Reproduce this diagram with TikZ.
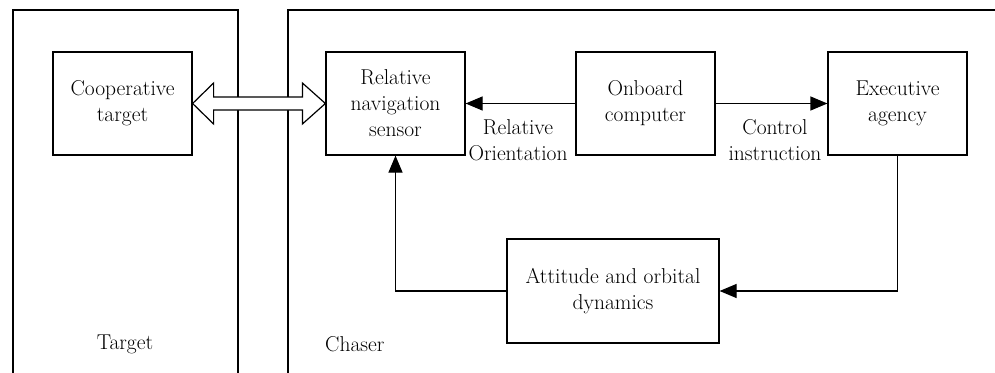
\documentclass[tikz,border=0pt]{standalone}
\usetikzlibrary{arrows.meta,calc}
\begin{document}
\begin{tikzpicture}[x=1pt,y=-1pt,
  every node/.style={font=\fontsize{21.5}{26}\selectfont, align=center, inner sep=0pt},
  blk/.style={draw, line width=1.2pt, minimum width=139pt, minimum height=103pt},
  conn/.style={line width=1.2pt, -{Triangle[length=17pt,width=14pt]}},
  panel/.style={line width=1.2pt}]
\useasboundingbox (0,0) rectangle (995,372);
% panels
\draw[panel] (13,375) -- (13,10) -- (238,10) -- (238,375);
\draw[panel] (288,375) -- (288,10) -- (1000,10);
\node (tl) at (125,344) {Target};
\node[anchor=west] (cl) at (325,344) {Chaser};
% blocks
\node[blk] (coop) at (122.5,103.5) {Cooperative\\target};
\node[blk] (sens) at (395.5,103.5) {Relative\\navigation\\sensor};
\node[blk] (comp) at (645.5,103.5) {Onboard\\computer};
\node[blk] (exec) at (897.5,103.5) {Executive\\agency};
\node[blk, minimum width=212pt, minimum height=104pt] (dyn) at (613,291) {Attitude and orbital\\dynamics};
% hollow double arrow
\draw[line width=1.2pt, fill=white] (coop.east) -- ++(21,-20.5) -- ++(0,14) -- ($(sens.west)+(-23,-6.5)$) -- ++(0,-14) -- (sens.west) -- ++(-23,20.5) -- ++(0,-14) -- ($(coop.east)+(21,6.5)$) -- ++(0,14) -- cycle;
% connectors
\draw[conn] (comp.west) -- (sens.east);
\draw[conn] (comp.east) -- (exec.west);
\coordinate (c1) at (exec.south |- dyn.east);
\draw[conn] (exec.south) -- (c1) -- (dyn.east);
\coordinate (c2) at (sens.south |- dyn.west);
\draw[conn] (dyn.west) -- (c2) -- (sens.south);
% labels
\node (lro) at (518,140) {Relative\\Orientation};
\node (lci) at (775,140) {Control\\instruction};
\end{tikzpicture}
\end{document}
